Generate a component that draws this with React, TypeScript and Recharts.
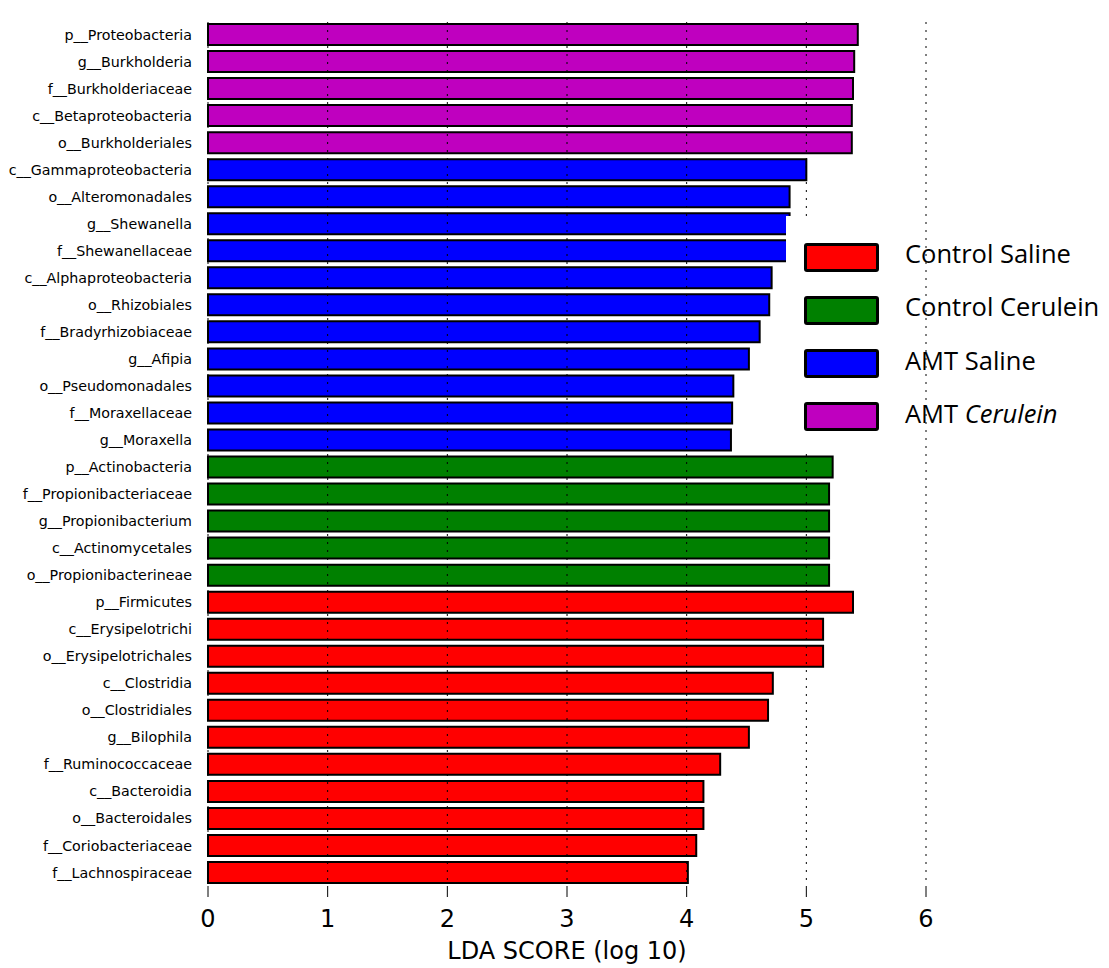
import { BarChart, Bar, XAxis, YAxis, ReferenceLine, Cell, Legend } from "recharts"

// ─── Data ─────────────────────────────────────────────────────────────────────

const taxa = [
  "p__Proteobacteria", "g__Burkholderia", "f__Burkholderiaceae", "c__Betaproteobacteria", "o__Burkholderiales",
  "c__Gammaproteobacteria", "o__Alteromonadales", "g__Shewanella", "f__Shewanellaceae", "c__Alphaproteobacteria",
  "o__Rhizobiales", "f__Bradyrhizobiaceae", "g__Afipia", "o__Pseudomonadales", "f__Moraxellaceae", "g__Moraxella",
  "p__Actinobacteria", "f__Propionibacteriaceae", "g__Propionibacterium", "c__Actinomycetales", "o__Propionibacterineae",
  "p__Firmicutes", "c__Erysipelotrichi", "o__Erysipelotrichales", "c__Clostridia", "o__Clostridiales", "g__Bilophila",
  "f__Ruminococcaceae", "c__Bacteroidia", "o__Bacteroidales", "f__Coriobacteriaceae", "f__Lachnospiraceae",
]

const ldaScores = [
  5.43, 5.40, 5.39, 5.38, 5.38,
  5.00, 4.86, 4.86, 4.85, 4.71, 4.69, 4.61, 4.52, 4.39, 4.38, 4.37,
  5.22, 5.19, 5.19, 5.19, 5.19,
  5.39, 5.14, 5.14, 4.72, 4.68, 4.52, 4.28, 4.14, 4.14, 4.08, 4.01,
]

const groupOf = [
  "AMT Cerulein", "AMT Cerulein", "AMT Cerulein", "AMT Cerulein", "AMT Cerulein",
  "AMT Saline", "AMT Saline", "AMT Saline", "AMT Saline", "AMT Saline", "AMT Saline",
  "AMT Saline", "AMT Saline", "AMT Saline", "AMT Saline", "AMT Saline",
  "Control Cerulein", "Control Cerulein", "Control Cerulein", "Control Cerulein", "Control Cerulein",
  "Control Saline", "Control Saline", "Control Saline", "Control Saline", "Control Saline", "Control Saline",
  "Control Saline", "Control Saline", "Control Saline", "Control Saline", "Control Saline",
]

const groups = ["Control Saline", "Control Cerulein", "AMT Saline", "AMT Cerulein"]
const groupColors: Record<string, string> = {
  "Control Saline": "#ff0000",
  "Control Cerulein": "#008000",
  "AMT Saline": "#0000ff",
  "AMT Cerulein": "#bf00bf",
}

const xTicks = [0, 1, 2, 3, 4, 5, 6]

const rows = taxa.map((name, i) => ({ name, score: ldaScores[i], group: groupOf[i] }))

// ─── Legend (pasted box over the plot) ────────────────────────────────────────

function GroupLegend() {
  return (
    <div style={{ position: "relative", width: 323, height: 236 }}>
      <div style={{ position: "absolute", left: 0, top: 0, width: 134, height: 236, background: "#fff" }} />
      {groups.map((g, i) => (
        <div key={g} style={{ position: "absolute", left: 18, top: 27 + i * 53.3, height: 28, display: "flex", alignItems: "center" }}>
          <span style={{
            display: "inline-block", width: 69, height: 23, background: groupColors[g],
            border: "3px solid #000", borderRadius: 3,
          }} />
          <span style={{
            position: "relative", top: -4, marginLeft: 26,
            fontFamily: "'Open Sans', sans-serif", fontSize: 25.5, color: "#000", whiteSpace: "nowrap", lineHeight: "28px",
          }}>
            {g === "AMT Cerulein" ? <>AMT <i>Cerulein</i></> : g}
          </span>
        </div>
      ))}
    </div>
  )
}

export default function App() {
  return (
    <div style={{ position: "absolute", left: 0, top: 0, width: 1109, height: 968, background: "#fff" }}>
      <BarChart
        width={1109}
        height={968}
        data={rows}
        layout="vertical"
        margin={{ top: 0, right: 183, bottom: 0, left: 0 }}
        barSize={21}
        style={{ fontFamily: "'DejaVu Sans', sans-serif" }}
      >
        <XAxis
          type="number"
          domain={[0, 6]}
          ticks={xTicks}
          interval={0}
          height={80}
          axisLine={false}
          tickSize={9}
          tickMargin={13}
          tickLine={{ stroke: "#000" }}
          tick={{ fontSize: 24, fill: "#000" }}
          label={{ value: "LDA SCORE (log 10)", position: "insideBottom", offset: 9, fontSize: 24, fill: "#000" }}
        />
        <XAxis
          xAxisId="top"
          orientation="top"
          type="number"
          domain={[0, 6]}
          ticks={xTicks}
          interval={0}
          height={17}
          axisLine={false}
          tickSize={9}
          tickLine={{ stroke: "#000" }}
          tick={false}
        />
        <YAxis
          type="category"
          dataKey="name"
          width={208}
          interval={0}
          axisLine={false}
          tickLine={false}
          tickSize={0}
          tickMargin={16}
          padding={{ top: 4, bottom: 2 }}
          tick={{ fontSize: 14.25, fill: "#000" }}
        />
        <Bar dataKey="score" stroke="#000" strokeWidth={2} isAnimationActive={false}>
          {rows.map((r) => (
            <Cell key={r.name} fill={groupColors[r.group]} />
          ))}
        </Bar>
        {xTicks.map((t) => (
          <ReferenceLine key={t} x={t} stroke="#000" strokeWidth={1} strokeDasharray="2 6" zIndex={500} />
        ))}
        <Legend
          layout="horizontal"
          verticalAlign="middle"
          align="center"
          content={() => <GroupLegend />}
          wrapperStyle={{ left: 786, top: 216, width: 323, height: 236 }}
        />
      </BarChart>
    </div>
  )
}
